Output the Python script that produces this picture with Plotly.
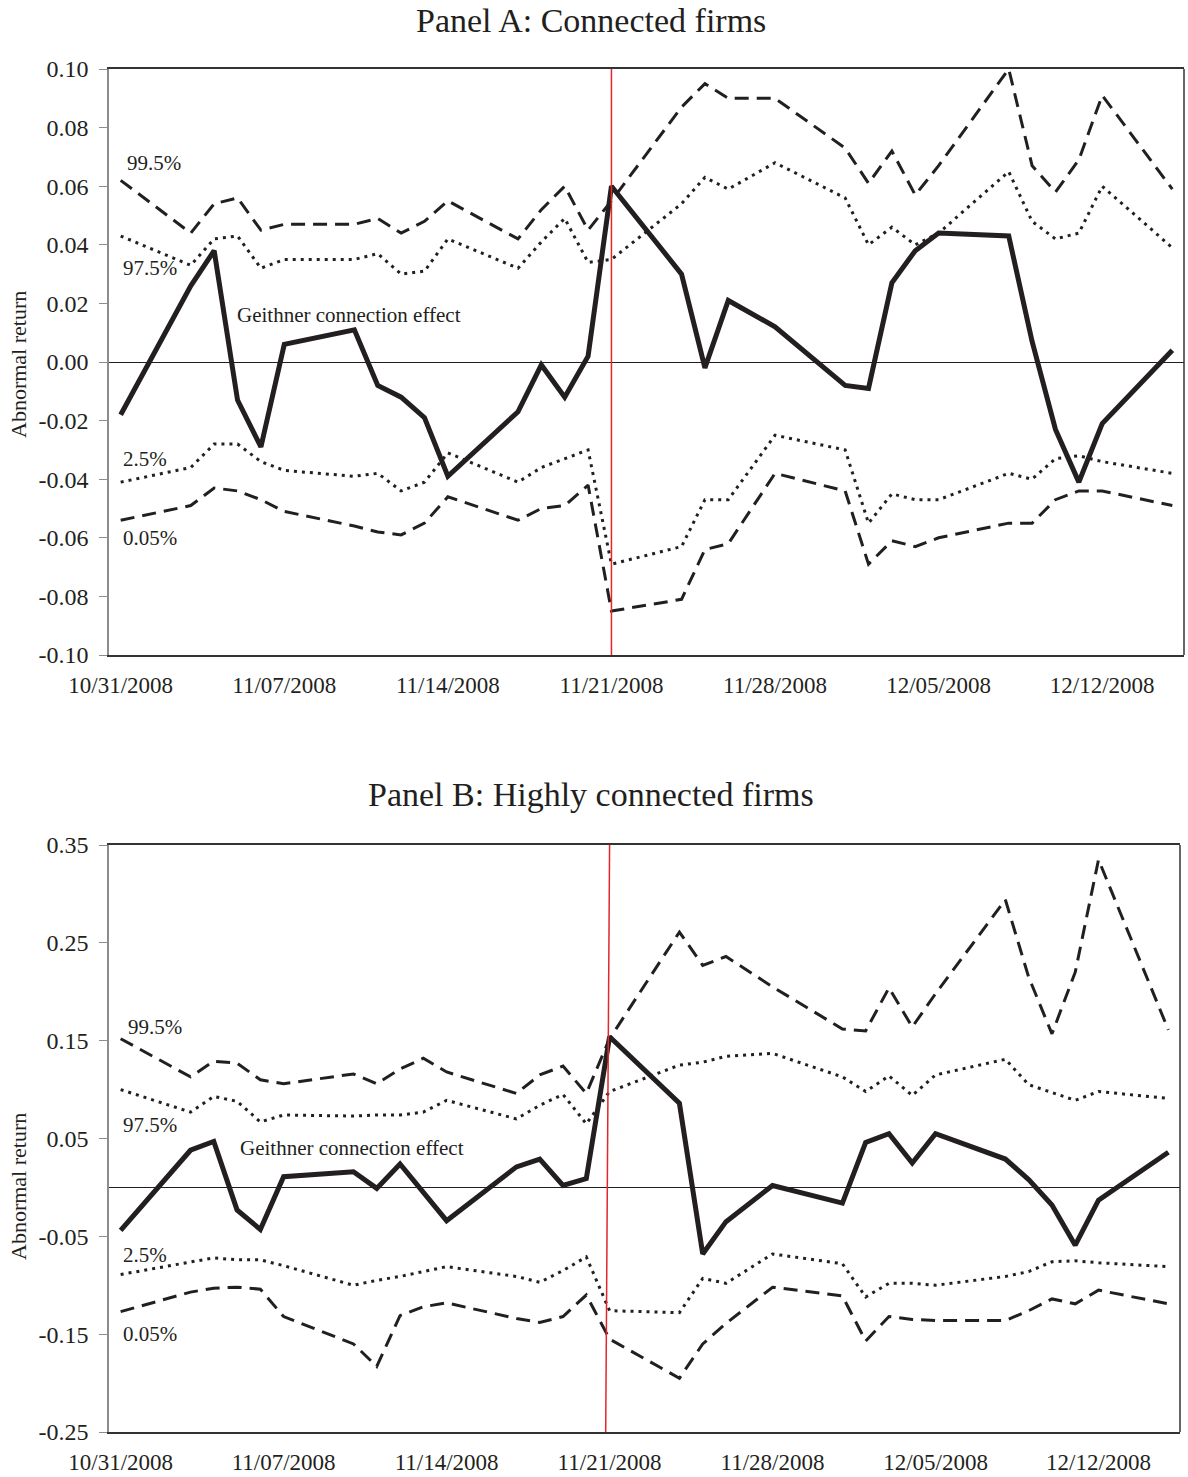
import plotly.graph_objects as go

# ---------------- data ----------------
dates = ['2008-10-31', '2008-11-03', '2008-11-04', '2008-11-05', '2008-11-06', '2008-11-07',
         '2008-11-10', '2008-11-11', '2008-11-12', '2008-11-13', '2008-11-14',
         '2008-11-17', '2008-11-18', '2008-11-19', '2008-11-20', '2008-11-21',
         '2008-11-24', '2008-11-25', '2008-11-26', '2008-11-28',
         '2008-12-01', '2008-12-02', '2008-12-03', '2008-12-04', '2008-12-05',
         '2008-12-08', '2008-12-09', '2008-12-10', '2008-12-11', '2008-12-12',
         '2008-12-15']

# Panel A: Connected firms
effect_a = [-0.018, 0.026, 0.038, -0.013, -0.029, 0.006, 0.011, -0.008, -0.012, -0.019, -0.039,
            -0.017, -0.001, -0.012, 0.002, 0.060, 0.030, -0.002, 0.021, 0.012, -0.008, -0.009,
            0.027, 0.038, 0.044, 0.043, 0.007, -0.023, -0.041, -0.021, 0.004]
p995_a = [0.062, 0.044, 0.054, 0.056, 0.045, 0.047, 0.047, 0.049, 0.044, 0.048, 0.055,
          0.042, 0.052, 0.060, 0.045, 0.055, 0.087, 0.095, 0.090, 0.090, 0.073, 0.061,
          0.072, 0.057, 0.067, 0.100, 0.067, 0.058, 0.069, 0.091, 0.059]
p975_a = [0.043, 0.033, 0.042, 0.043, 0.032, 0.035, 0.035, 0.037, 0.030, 0.031, 0.042,
          0.032, 0.041, 0.049, 0.034, 0.035, 0.054, 0.063, 0.059, 0.068, 0.056, 0.040,
          0.046, 0.040, 0.044, 0.065, 0.048, 0.042, 0.044, 0.060, 0.039]
p25_a = [-0.041, -0.036, -0.028, -0.028, -0.034, -0.037, -0.039, -0.038, -0.044, -0.041, -0.031,
         -0.041, -0.036, -0.033, -0.030, -0.069, -0.063, -0.047, -0.047, -0.025, -0.030, -0.055,
         -0.045, -0.047, -0.047, -0.038, -0.040, -0.033, -0.032, -0.034, -0.038]
p005_a = [-0.054, -0.049, -0.043, -0.044, -0.047, -0.051, -0.056, -0.058, -0.059, -0.055, -0.046,
          -0.054, -0.050, -0.049, -0.042, -0.085, -0.081, -0.064, -0.062, -0.038, -0.044, -0.069,
          -0.061, -0.063, -0.060, -0.055, -0.055, -0.047, -0.044, -0.044, -0.049]

# Panel B: Highly connected firms
effect_b = [-0.044, 0.038, 0.047, -0.023, -0.043, 0.011, 0.016, -0.001, 0.024, -0.005, -0.034,
            0.021, 0.029, 0.002, 0.009, 0.154, 0.086, -0.068, -0.035, 0.002, -0.016, 0.046,
            0.055, 0.025, 0.055, 0.029, 0.008, -0.018, -0.059, -0.013, 0.036]
p995_b = [0.152, 0.113, 0.129, 0.127, 0.110, 0.106, 0.116, 0.106, 0.121, 0.132, 0.118,
          0.096, 0.115, 0.124, 0.096, 0.152, 0.261, 0.227, 0.236, 0.205, 0.162, 0.160,
          0.204, 0.164, 0.198, 0.294, 0.215, 0.157, 0.220, 0.335, 0.161]
p975_b = [0.100, 0.077, 0.093, 0.088, 0.067, 0.074, 0.073, 0.074, 0.074, 0.077, 0.089,
          0.070, 0.084, 0.095, 0.065, 0.098, 0.125, 0.128, 0.134, 0.137, 0.113, 0.098,
          0.114, 0.094, 0.115, 0.131, 0.105, 0.097, 0.089, 0.098, 0.091]
p25_b = [-0.089, -0.076, -0.072, -0.074, -0.074, -0.080, -0.100, -0.095, -0.091, -0.086, -0.081,
         -0.091, -0.097, -0.085, -0.071, -0.126, -0.128, -0.093, -0.098, -0.068, -0.078, -0.112,
         -0.098, -0.098, -0.100, -0.091, -0.086, -0.076, -0.075, -0.077, -0.081]
p005_b = [-0.127, -0.107, -0.103, -0.102, -0.104, -0.132, -0.160, -0.183, -0.131, -0.122, -0.118,
          -0.134, -0.138, -0.132, -0.110, -0.155, -0.195, -0.160, -0.139, -0.102, -0.111, -0.157,
          -0.132, -0.135, -0.136, -0.136, -0.126, -0.114, -0.119, -0.105, -0.119]

x_label_dates = ['2008-10-31', '2008-11-07', '2008-11-14', '2008-11-21',
                 '2008-11-28', '2008-12-05', '2008-12-12']
x_label_text = ['10/31/2008', '11/07/2008', '11/14/2008', '11/21/2008',
                '11/28/2008', '12/05/2008', '12/12/2008']
x_tick_marks = ['2008-11-06 12:00', '2008-11-13 12:00', '2008-11-20 12:00',
                '2008-11-27 12:00', '2008-12-04 12:00', '2008-12-11 12:00']
x_range = ['2008-10-30 12:00', '2008-12-15 12:00']

ya_range = [-0.10, 0.10]
ya_ticks = [-0.10, -0.08, -0.06, -0.04, -0.02, 0.00, 0.02, 0.04, 0.06, 0.08, 0.10]
yb_range = [-0.25, 0.35]
yb_ticks = [-0.25, -0.15, -0.05, 0.05, 0.15, 0.25, 0.35]

event_date = '2008-11-21'

# ---------------- layout geometry ----------------
W, H = 1188, 1477
FONT = 'Liberation Serif, Times New Roman, serif'
INK = '#231f20'


def px_x(p):
    return p / W


def px_y(p):
    return 1 - p / H


xa_dom = [px_x(109), px_x(1184)]
xb_dom = [px_x(109), px_x(1180)]
ya_dom = [px_y(655), px_y(69)]
yb_dom = [px_y(1432), px_y(845)]


def zero_pos(dom, rng):
    return dom[0] + (0 - rng[0]) / (rng[1] - rng[0]) * (dom[1] - dom[0])


fig = go.Figure()

sty = {
    'effect': dict(color=INK, width=5, dash='solid'),
    'p995': dict(color=INK, width=3, dash='14px,8px'),
    'p975': dict(color=INK, width=3, dash='3px,5px'),
    'p25': dict(color=INK, width=3, dash='3px,5px'),
    'p005': dict(color=INK, width=3, dash='14px,8px'),
}

panel_a = {'effect': effect_a, 'p995': p995_a, 'p975': p975_a, 'p25': p25_a, 'p005': p005_a}
panel_b = {'effect': effect_b, 'p995': p995_b, 'p975': p975_b, 'p25': p25_b, 'p005': p005_b}

order = ['p995', 'p975', 'p25', 'p005', 'effect']
for key in order:
    fig.add_trace(go.Scatter(x=dates, y=panel_a[key], mode='lines', line=sty[key],
                             xaxis='x', yaxis='y', showlegend=False, hoverinfo='skip'))
for key in order:
    fig.add_trace(go.Scatter(x=dates, y=panel_b[key], mode='lines', line=sty[key],
                             xaxis='x2', yaxis='y2', showlegend=False, hoverinfo='skip'))

xtickfont = dict(family=FONT, size=23, color=INK)
ytickfont = dict(family=FONT, size=24, color=INK)

common_x = dict(type='date', range=x_range, tickmode='array', tickvals=x_label_dates,
                ticktext=x_label_text, ticks='', showgrid=False, zeroline=False,
                showline=True, mirror=True, linecolor='#333333', linewidth=1.5,
                tickfont=xtickfont, ticklabelstandoff=9, automargin=False)
common_y = dict(tickmode='array', showgrid=False, zeroline=True, zerolinecolor=INK,
                zerolinewidth=1.2, showline=True, linecolor='#8c8c8c', linewidth=1.5,
                ticks='outside', ticklen=8, tickcolor='#8c8c8c', tickwidth=1.2,
                tickfont=ytickfont, ticklabelstandoff=6, automargin=False)

fig.update_layout(
    width=W, height=H, autosize=False,
    margin=dict(l=0, r=0, t=0, b=0, autoexpand=False),
    paper_bgcolor='white', plot_bgcolor='white',
    xaxis=dict(domain=xa_dom, anchor='y', **common_x),
    yaxis=dict(domain=ya_dom, anchor='x', range=ya_range, tickvals=ya_ticks,
               ticktext=[f'{v:.2f}' for v in ya_ticks], **common_y),
    xaxis2=dict(domain=xb_dom, anchor='y2', **common_x),
    yaxis2=dict(domain=yb_dom, anchor='x2', range=yb_range, tickvals=yb_ticks,
                ticktext=[f'{v:.2f}' for v in yb_ticks], **common_y),
    xaxis3=dict(type='date', range=x_range, overlaying='x', anchor='free',
                position=zero_pos(ya_dom, ya_range), side='bottom', showline=False,
                tickmode='array', tickvals=x_tick_marks, ticks='outside', ticklen=7,
                tickwidth=1.2, tickcolor=INK, showticklabels=False, showgrid=False,
                zeroline=False, automargin=False),
    xaxis4=dict(type='date', range=x_range, overlaying='x2', anchor='free',
                position=zero_pos(yb_dom, yb_range), side='bottom', showline=False,
                tickmode='array', tickvals=x_tick_marks, ticks='outside', ticklen=7,
                tickwidth=1.2, tickcolor=INK, showticklabels=False, showgrid=False,
                zeroline=False, automargin=False),
)

# right border of each panel
for xr, yr in [('x', 'y'), ('x2', 'y2')]:
    fig.add_shape(type='line', xref=f'{xr} domain', yref=f'{yr} domain',
                  x0=1, x1=1, y0=0, y1=1, line=dict(color='#333333', width=1.5))

# red event lines
fig.add_shape(type='line', xref='x', yref='y domain', x0=event_date, x1=event_date,
              y0=0, y1=1, line=dict(color='#e3262b', width=1.5))
fig.add_shape(type='line', xref='x2', yref='y2 domain', x0='2008-11-20 20:00', x1=event_date,
              y0=0, y1=1, line=dict(color='#e3262b', width=1.5))

# titles
title_font = dict(family=FONT, size=34, color=INK)
fig.add_annotation(text='Panel A: Connected firms', xref='paper', yref='paper',
                   x=px_x(591), y=px_y(20), xanchor='center', yanchor='middle',
                   showarrow=False, font=title_font)
fig.add_annotation(text='Panel B: Highly connected firms', xref='paper', yref='paper',
                   x=px_x(591), y=px_y(795), xanchor='center', yanchor='middle',
                   showarrow=False, font=title_font)

# y-axis titles
for yc in [365, 1187]:
    fig.add_annotation(text='Abnormal return', xref='paper', yref='paper',
                       x=px_x(18), y=px_y(yc), xanchor='center', yanchor='middle',
                       showarrow=False, textangle=-90,
                       font=dict(family=FONT, size=22, color=INK))

# line labels
lab_font = dict(family=FONT, size=21, color=INK)
labels_a = [('99.5%', '2008-10-31 04:00', 0.068),
            ('97.5%', '2008-10-31 00:00', 0.032),
            ('Geithner connection effect', '2008-11-04 21:00', 0.016),
            ('2.5%', '2008-10-31 00:00', -0.033),
            ('0.05%', '2008-10-31 00:00', -0.060)]
labels_b = [('99.5%', '2008-10-31 06:00', 0.164),
            ('97.5%', '2008-10-31 00:00', 0.064),
            ('Geithner connection effect', '2008-11-05 01:00', 0.040),
            ('2.5%', '2008-10-31 00:00', -0.069),
            ('0.05%', '2008-10-31 00:00', -0.150)]
for txt, xd, yv in labels_a:
    fig.add_annotation(text=txt, x=xd, y=yv, xref='x', yref='y', xanchor='left',
                       yanchor='middle', showarrow=False, font=lab_font)
for txt, xd, yv in labels_b:
    fig.add_annotation(text=txt, x=xd, y=yv, xref='x2', yref='y2', xanchor='left',
                       yanchor='middle', showarrow=False, font=lab_font)

fig.write_html('out.html', config={'displayModeBar': False},
               post_script="document.body.style.margin='0px';document.body.style.padding='0px';")
